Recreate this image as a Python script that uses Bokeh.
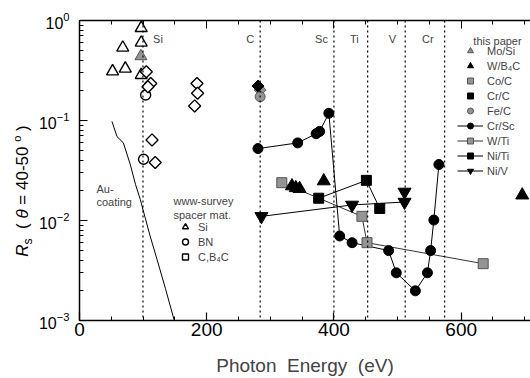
import numpy as np
from bokeh.plotting import figure
from bokeh.models import (Span, Label, Legend, LegendItem, LinearAxis, Div,
                          SingleIntervalTicker, LogTicker, Range1d, CustomJSTickFormatter)
from bokeh.layouts import row
from bokeh.embed import file_html
from bokeh.resources import INLINE

FONT = "Liberation Sans"

# ---------------- data ----------------
edge_names = ["Si", "C", "Sc", "Ti", "V", "Cr"]
edge_energy = [99.8, 284, 400, 453, 512, 574]

# www-survey, spacer material
survey_si_x = [52, 68, 72, 97, 97, 97]
survey_si_y = [0.31, 0.535, 0.33, 0.84, 0.60, 0.285]
survey_bn_x = [104, 100.7]
survey_bn_y = [0.18, 0.041]
survey_c_x = [105, 112, 107.6, 184.7, 185.6, 181, 114, 119]
survey_c_y = [0.307, 0.235, 0.218, 0.235, 0.187, 0.14, 0.064, 0.038]

# Au coating
au_x = [51, 59, 69, 80, 88, 95.5, 103, 111, 121.8, 135, 149]
au_y = [0.098, 0.069, 0.0597, 0.036, 0.023, 0.0163, 0.0108, 0.0070, 0.0041, 0.0021, 0.001]

# this paper
mosi_x = [96.6]
mosi_y = [0.439]
wb4c_x = [334, 340, 346, 384, 696]
wb4c_y = [0.0221, 0.0212, 0.0208, 0.0248, 0.0179]
coc_x = [284]
coc_y = [0.202]
crc_x = [280.6]
crc_y = [0.221]
fec_x = [284]
fec_y = [0.173]
crsc_x = [280.6, 343, 372, 377.5, 392, 409, 428.5, 486, 498, 528, 547, 552, 557, 565]
crsc_y = [0.0524, 0.0597, 0.0738, 0.0778, 0.118, 0.0070, 0.0060, 0.0050, 0.0030,
          0.00198, 0.0030, 0.0050, 0.0101, 0.0363]
wti_x = [318, 444, 452, 634.6]
wti_y = [0.0239, 0.011, 0.006, 0.0037]
niti_x = [376, 451, 472]
niti_y = [0.0167, 0.0252, 0.0132]
niv_x = [286, 428.5, 511, 511]
niv_y = [0.011, 0.0143, 0.0153, 0.0193]

# ---------------- layout helpers (pixel -> data, annotations only) ----------------
W, H = 530, 378
DW = 34            # width of the y-label strip
L, T, B = 79, 20, 56
XMAX = 709
FW = W - L
FH = H - T - B


def px2x(px):
    return (px - L) / FW * XMAX


def py2y(py):
    return 10 ** (-(py - T) / FH * 3)


p = figure(width=W - DW, height=H, x_range=Range1d(0, XMAX), y_range=Range1d(1e-3, 1),
           y_axis_type="log", output_backend="svg", toolbar_location=None,
           min_border_left=L - DW, min_border_right=0, min_border_top=T,
           min_border_bottom=B)
p.outline_line_color = None
p.grid.visible = False
p.background_fill_color = "white"

# axes
xa = p.xaxis[0]
xa.ticker = SingleIntervalTicker(interval=200, num_minor_ticks=4)
xa.axis_label = "Photon\u00a0 Energy\u00a0 (eV)"
ya = p.yaxis[0]
ya.ticker = LogTicker(num_minor_ticks=10)
for ax in (xa, ya):
    ax.major_tick_in = 8
    ax.major_tick_out = 0
    ax.minor_tick_in = 4
    ax.minor_tick_out = 0
    ax.axis_line_width = 1.5
    ax.major_tick_line_width = 1.2
    ax.major_label_text_font = FONT
    ax.major_label_text_color = "black"
    ax.axis_label_text_font = FONT
    ax.axis_label_text_font_style = "normal"
xa.major_label_text_font_size = "19px"
xa.axis_label_text_font_size = "19px"
ya.major_label_text_font_size = "16px"
xa.major_label_standoff = 2
xa.axis_label_standoff = 16
ya.major_label_standoff = 10

top = LinearAxis(ticker=SingleIntervalTicker(interval=200, num_minor_ticks=4),
                 major_tick_in=8, major_tick_out=0, minor_tick_in=4, minor_tick_out=0,
                 formatter=CustomJSTickFormatter(code="return ''"),
                 major_label_standoff=0, axis_line_width=1.5)
p.add_layout(top, "above")

# edge lines
for e in edge_energy:
    p.add_layout(Span(location=e, dimension="height", line_color="black",
                      line_dash="2 3", line_width=1.2))
edge_offsets = [15, -6, -6, -9, -9, -11]
edge_align = ["center", "right", "right", "right", "right", "right"]
for name, e, off, al in zip(edge_names, edge_energy, edge_offsets, edge_align):
    p.add_layout(Label(x=e, y=py2y(39), x_offset=off, text=name, text_align=al,
                       text_baseline="middle", text_font=FONT, text_font_size="11px"))

# Au coating
p.line(au_x, au_y, line_color="black", line_width=1)
p.add_layout(Label(x=px2x(96), y=py2y(190), text="Au-", text_font=FONT,
                   text_font_size="11px", text_baseline="middle"))
p.add_layout(Label(x=px2x(96), y=py2y(203), text="coating", text_font=FONT,
                   text_font_size="11px", text_baseline="middle"))

# survey data
r_si = p.scatter(survey_si_x, survey_si_y, marker="triangle", size=12, fill_color="white",
                 line_color="black", line_width=1.4)
r_bn = p.scatter(survey_bn_x, survey_bn_y, marker="circle", size=10, fill_color="white",
                 line_color="black", line_width=1.4)
r_c = p.scatter(survey_c_x, survey_c_y, marker="square", angle=np.pi / 4, size=8.5,
                fill_color="white", line_color="black", line_width=1.4)

# this paper
GRAY = "#949494"
l_crsc = p.line(crsc_x, crsc_y, line_color="black", line_width=1)
r_crsc = p.scatter(crsc_x, crsc_y, marker="circle", size=10, color="black")
l_wti = p.line(wti_x, wti_y, line_color="black", line_width=0.8)
r_wti = p.scatter(wti_x, wti_y, marker="square", size=10, fill_color=GRAY,
                  line_color="#555555")
l_niti = p.line(niti_x, niti_y, line_color="black", line_width=1)
r_niti = p.scatter(niti_x, niti_y, marker="square", size=10, color="black")
l_niv = p.line(niv_x, niv_y, line_color="black", line_width=1)
r_niv = p.scatter(niv_x, niv_y, marker="inverted_triangle", size=13, color="black")
r_mosi = p.scatter(mosi_x, mosi_y, marker="triangle", size=12, fill_color=GRAY,
                   line_color="#555555")
r_wb4c = p.scatter(wb4c_x, wb4c_y, marker="triangle", size=13, color="black")
r_coc = p.scatter(coc_x, coc_y, marker="square", angle=np.pi / 4, size=8.5,
                  fill_color=GRAY, line_color="#555555")
r_crc = p.scatter(crc_x, crc_y, marker="square", angle=np.pi / 4, size=8.5, color="black")
r_fec = p.scatter(fec_x, fec_y, marker="circle", size=10, fill_color=GRAY,
                  line_color="#555555")

leg1 = Legend(items=[
    LegendItem(label="Mo/Si", renderers=[r_mosi]),
    LegendItem(label="W/B\u2084C", renderers=[r_wb4c]),
    LegendItem(label="Co/C", renderers=[r_coc]),
    LegendItem(label="Cr/C", renderers=[r_crc]),
    LegendItem(label="Fe/C", renderers=[r_fec]),
    LegendItem(label="Cr/Sc", renderers=[l_crsc, r_crsc]),
    LegendItem(label="W/Ti", renderers=[l_wti, r_wti]),
    LegendItem(label="Ni/Ti", renderers=[l_niti, r_niti]),
    LegendItem(label="Ni/V", renderers=[l_niv, r_niv]),
], location=(457 - L, H - B - 180), padding=0, margin=0, spacing=0,
    glyph_width=26, glyph_height=15, label_height=15, label_standoff=4,
    label_text_font=FONT, label_text_font_size="11px",
    border_line_color=None, background_fill_alpha=0)
p.add_layout(leg1)
p.add_layout(Label(x=px2x(497), y=py2y(41), text="this paper", text_align="center",
                   text_baseline="middle", text_font=FONT, text_font_size="11px"))

leg2 = Legend(items=[
    LegendItem(label="Si", renderers=[r_si]),
    LegendItem(label="BN", renderers=[r_bn]),
    LegendItem(label="C,B\u2084C", renderers=[r_c]),
], location=(177 - L, H - B - 266), padding=0, margin=0, spacing=0,
    glyph_width=16, glyph_height=15, label_height=15, label_standoff=5,
    label_text_font=FONT, label_text_font_size="11px",
    border_line_color=None, background_fill_alpha=0)
p.add_layout(leg2)
p.add_layout(Label(x=px2x(173), y=py2y(202), text="www-survey", text_baseline="middle",
                   text_font=FONT, text_font_size="11px"))
p.add_layout(Label(x=px2x(173), y=py2y(216), text="spacer mat.", text_baseline="middle",
                   text_font=FONT, text_font_size="11px"))

# y-axis label: italic R, subscript s, italic theta, superscript degree
ylabel_html = (
    '<div style="position:absolute;left:23px;top:191px;'
    'transform:translate(-50%,-50%) rotate(-90deg);white-space:nowrap;'
    "font-family:'Liberation Sans';font-size:17px;color:black;line-height:1;\">"
    '<i>R</i><sub style="font-size:12px">s</sub>&nbsp; (&nbsp;<i>&theta;</i>'
    '&nbsp;=&nbsp;40-50&nbsp;<sup style="font-size:11px">o</sup>&nbsp;)</div>'
)
ydiv = Div(text=ylabel_html, width=DW, height=H, margin=0,
           styles={"position": "relative", "overflow": "visible"})

layout = row(ydiv, p, spacing=0, margin=0)
open("out.html", "w").write(file_html(layout, INLINE))
